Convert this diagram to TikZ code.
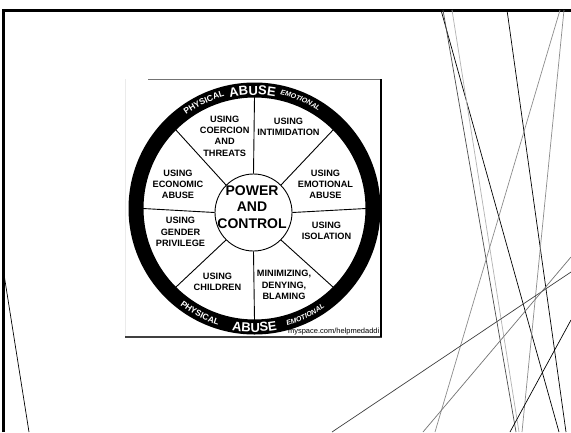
\documentclass[tikz,border=0pt]{standalone}
\usepackage{fontspec}
\setmainfont{Liberation Sans}
\usetikzlibrary{decorations.text}

\begin{document}
\begin{tikzpicture}[x=1pt, y=-1pt,
  slice/.style = {font=\bfseries\fontsize{9.2}{11.3}\selectfont, align=center, inner sep=0pt},
  spoke/.style = {line width=0.9pt},
  facet/.style = {line width=0.7pt},
  rim/.style = {decorate, decoration={text along path, text align=center, text color=white, text={#1}}}]
  \useasboundingbox[fill=white] (0,0) rectangle (571,432);
  \draw[line width=3pt] (3,432) -- (3,10) -- (571,10);
  \draw[facet] (3,268) -- (29,432);
  \draw[facet, black] (441,10) -- (559,432);
  \draw[facet, black!70] (443,10) -- (516,432);
  \draw[facet, black!30] (452,10) -- (519,432);
  \draw[facet, black] (507,10) -- (566,432);
  \draw[facet, black!45] (560,10) -- (435,432);
  \draw[facet, black!45] (564,10) -- (522,432);
  \draw[facet, black!75] (332,432) -- (571,272);
  \draw[facet, black!55] (423,432) -- (571,257);
  \draw[facet, black] (510,432) -- (571,320);
  \draw[black!55, line width=0.6pt] (148,79) -- (382,79);
  \draw[black!8, line width=0.4pt] (125,79) -- (125,337);
  \draw[black!75, line width=1.3pt] (125,337) -- (382,337);
  \draw[line width=2.2pt] (381,79) -- (381,337);
  \node[anchor=base east, font=\fontsize{7.5}{8}\selectfont, inner sep=0pt] (site) at (379.5,333.5) {myspace.com/helpmedaddi};
  \begin{scope}[shift={(254.5,208.5)}, y=1pt]
    \fill[even odd rule] (0,0) circle[radius=126] (0,0) circle[radius=111];
    \node[draw, circle, line width=0.9pt, minimum size=77pt, inner sep=0pt] (hub) at (-1,-4) {};
    \foreach \a in {0,45,...,315}
      \draw[spoke] (hub.\a) -- (\a:111.5);
    \node[font=\bfseries\fontsize{14}{16.5}\selectfont, align=center, inner sep=0pt] (power) at (-2.5,1.5) {POWER\\AND\\CONTROL};
    \node[slice] (coercion) at (-29.8,72.5) {USING\\COERCION\\AND\\THREATS};
    \node[slice] (intimidation) at (34,81.5) {USING\\INTIMIDATION};
    \node[slice] (emotional) at (71,24) {USING\\EMOTIONAL\\ABUSE};
    \node[slice] (isolation) at (72,-22) {USING\\ISOLATION};
    \node[slice] (minimizing) at (29.5,-76.5) {MINIMIZING,\\DENYING,\\BLAMING};
    \node[slice] (children) at (-37,-73.5) {USING\\CHILDREN};
    \node[slice] (gender) at (-74,-23.5) {USING\\GENDER\\PRIVILEGE};
    \node[slice] (economic) at (-76.5,24) {USING\\ECONOMIC\\ABUSE};
    \path[rim={|\bfseries\fontsize{8.5}{9}\selectfont|PHYSICAL}] (145.5:116) arc[start angle=145.5, end angle=85.5, radius=116];
    \path[rim={|\bfseries\fontsize{13}{13}\selectfont|ABUSE}] (131:113.5) arc[start angle=131, end angle=51, radius=113.5];
    \path[rim={|\bfseries\itshape\fontsize{7}{8}\selectfont|EMOTIONAL}] (97:116.5) arc[start angle=97, end angle=37, radius=116.5];
    \path[rim={|\bfseries\fontsize{8.5}{9}\selectfont|PHYSICAL}] (212.5:122) arc[start angle=212.5, end angle=272.5, radius=122];
    \path[rim={|\bfseries\fontsize{13}{13}\selectfont|ABUSE}] (230:123.5) arc[start angle=230, end angle=310, radius=123.5];
    \path[rim={|\bfseries\itshape\fontsize{7}{8}\selectfont|EMOTIONAL}] (265.5:121.5) arc[start angle=265.5, end angle=325.5, radius=121.5];
  \end{scope}
\end{tikzpicture}
\end{document}
